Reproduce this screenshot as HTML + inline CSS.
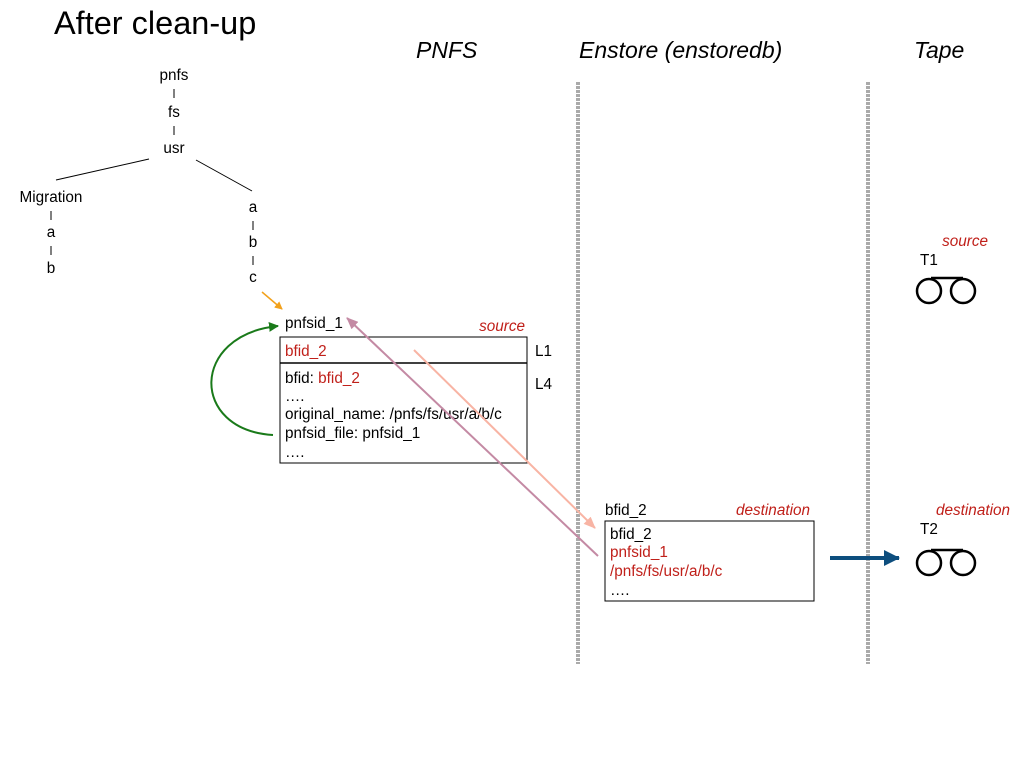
<!DOCTYPE html>
<html><head><meta charset="utf-8"><style>
body{margin:0;background:#fff;}
svg text{font-family:"Liberation Sans",sans-serif;}
</style></head><body>
<svg width="1024" height="768" viewBox="0 0 1024 768" xmlns="http://www.w3.org/2000/svg">
<defs>
<marker id="ao" markerWidth="8" markerHeight="8" refX="7" refY="4" orient="auto" markerUnits="userSpaceOnUse"><path d="M0,0 L8,4 L0,8z" fill="#f2a11c"/></marker>
<marker id="ag" markerWidth="10" markerHeight="10" refX="9" refY="5" orient="auto" markerUnits="userSpaceOnUse"><path d="M0,0 L10,5 L0,10z" fill="#1a7a1a"/></marker>
<marker id="ap" markerWidth="12" markerHeight="10" refX="11" refY="5" orient="auto" markerUnits="userSpaceOnUse"><path d="M0,0 L12,5 L0,10z" fill="#c48aa4"/></marker>
<marker id="as" markerWidth="12" markerHeight="10" refX="11" refY="5" orient="auto" markerUnits="userSpaceOnUse"><path d="M0,0 L12,5 L0,10z" fill="#f8b4a4"/></marker>
<marker id="ab" markerWidth="16" markerHeight="16" refX="15" refY="8" orient="auto" markerUnits="userSpaceOnUse"><path d="M0,0 L16,8 L0,16z" fill="#0d4e7e"/></marker>
</defs>
<text x="54" y="34" font-size="32.5">After clean-up</text>
<g font-size="23" font-style="italic">
<text x="416" y="58">PNFS</text>
<text x="579" y="58">Enstore (enstoredb)</text>
<text x="914" y="58">Tape</text>
</g>
<line x1="578" y1="82" x2="578" y2="664" stroke="#aaa" stroke-width="4" stroke-dasharray="3,1"/>
<line x1="868" y1="82" x2="868" y2="664" stroke="#aaa" stroke-width="4" stroke-dasharray="3,1"/>
<g font-size="15.3">
<text x="174" y="80" text-anchor="middle">pnfs</text>
<text x="174" y="117" text-anchor="middle">fs</text>
<text x="174" y="153" text-anchor="middle">usr</text>
<text x="51" y="202" text-anchor="middle">Migration</text>
<text x="51" y="237" text-anchor="middle">a</text>
<text x="51" y="273" text-anchor="middle">b</text>
<text x="253" y="212" text-anchor="middle">a</text>
<text x="253" y="247" text-anchor="middle">b</text>
<text x="253" y="282" text-anchor="middle">c</text>
</g>
<g stroke="#000" stroke-width="1">
<line x1="174" y1="89" x2="174" y2="98"/><line x1="174" y1="126" x2="174" y2="135"/>
<line x1="149" y1="159" x2="56" y2="180"/><line x1="196" y1="160" x2="252" y2="191"/>
<line x1="51" y1="211" x2="51" y2="220"/><line x1="51" y1="246" x2="51" y2="255"/>
<line x1="253" y1="221" x2="253" y2="230"/><line x1="253" y1="256" x2="253" y2="265"/>
</g>
<line x1="262" y1="292" x2="282" y2="309" stroke="#f2a11c" stroke-width="1.5" marker-end="url(#ao)"/>
<text x="285" y="328" font-size="15.3">pnfsid_1</text>
<text x="525" y="331" font-size="15.3" font-style="italic" fill="#c0201a" text-anchor="end">source</text>
<rect x="280" y="337" width="247" height="126" fill="none" stroke="#000" stroke-width="1"/>
<line x1="280" y1="363" x2="527" y2="363" stroke="#000" stroke-width="1.5"/>
<g font-size="15.3">
<text x="285" y="356" fill="#c0201a">bfid_2</text>
<text x="535" y="356">L1</text>
<text x="535" y="389">L4</text>
<text x="285" y="383">bfid: <tspan fill="#c0201a">bfid_2</tspan></text>
<text x="285" y="401">….</text>
<text x="285" y="419">original_name: /pnfs/fs/usr/a/b/c</text>
<text x="285" y="438">pnfsid_file: pnfsid_1</text>
<text x="285" y="457">….</text>
</g>
<path d="M273,435 C190,430 190,335 278,326" fill="none" stroke="#1a7a1a" stroke-width="2" marker-end="url(#ag)"/>
<line x1="598" y1="556" x2="347" y2="318" stroke="#c48aa4" stroke-width="2" marker-end="url(#ap)"/>
<line x1="414" y1="350" x2="595" y2="528" stroke="#f8b4a4" stroke-width="2" marker-end="url(#as)"/>
<text x="605" y="515" font-size="15.3">bfid_2</text>
<text x="810" y="515" font-size="15.3" font-style="italic" fill="#c0201a" text-anchor="end">destination</text>
<rect x="605" y="521" width="209" height="80" fill="none" stroke="#000" stroke-width="1"/>
<g font-size="15.3">
<text x="610" y="539">bfid_2</text>
<text x="610" y="557" fill="#c0201a">pnfsid_1</text>
<text x="610" y="576" fill="#c0201a">/pnfs/fs/usr/a/b/c</text>
<text x="610" y="595">….</text>
</g>
<line x1="830" y1="558" x2="899" y2="558" stroke="#0d4e7e" stroke-width="4" marker-end="url(#ab)"/>
<text x="988" y="246" font-size="15.3" font-style="italic" fill="#c0201a" text-anchor="end">source</text>
<text x="920" y="265" font-size="15.3">T1</text>
<g fill="none" stroke="#000" stroke-width="2.5">
<circle cx="929" cy="291" r="12"/><circle cx="963" cy="291" r="12"/><line x1="931" y1="278" x2="963" y2="278"/>
</g>
<text x="1010" y="515" font-size="15.3" font-style="italic" fill="#c0201a" text-anchor="end">destination</text>
<text x="920" y="534" font-size="15.3">T2</text>
<g fill="none" stroke="#000" stroke-width="2.5">
<circle cx="929" cy="563" r="12"/><circle cx="963" cy="563" r="12"/><line x1="931" y1="550" x2="963" y2="550"/>
</g>
</svg>
</body></html>
